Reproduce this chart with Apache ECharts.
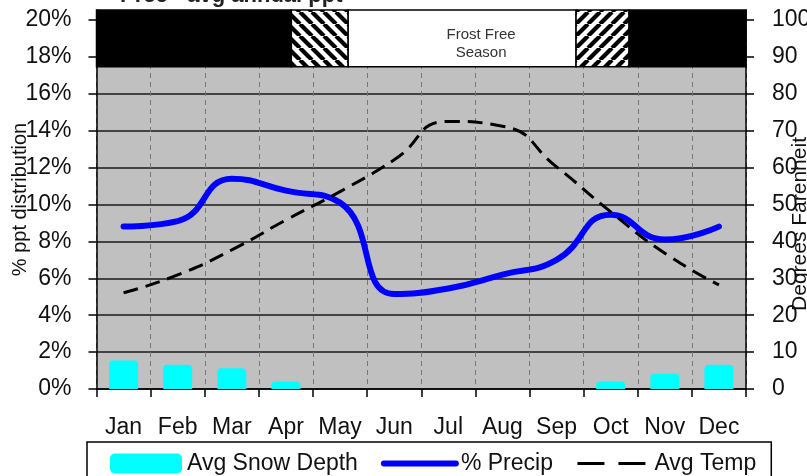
<!DOCTYPE html>
<html>
<head>
<meta charset="utf-8">
<script src="https://cdn.jsdelivr.net/npm/echarts@6/dist/echarts.min.js"></script>
<style>
  html, body { margin: 0; padding: 0; background: #fff; }
  #chart { width: 807px; height: 476px; }
</style>
</head>
<body>
<div id="chart"></div>
<script>
// data
const months = ['Jan', 'Feb', 'Mar', 'Apr', 'May', 'Jun', 'Jul', 'Aug', 'Sep', 'Oct', 'Nov', 'Dec'];
const snowDepth = [7.7, 6.6, 5.6, 2.0, null, null, null, null, null, 2.0, 4.1, 6.6];
const precipPct = [8.8, 9.1, 11.4, 10.75, 10.1, 5.15, 5.45, 6.2, 7.0, 9.45, 8.1, 8.8];
const avgTemp = [26.1, 30.9, 37.7, 45.8, 53.5, 62.1, 72.5, 71.2, 60.2, 48.0, 36.8, 28.2];
const pctTicks = [0, 2, 4, 6, 8, 10, 12, 14, 16, 18, 20];
const degTicks = [0, 10, 20, 30, 40, 50, 60, 70, 80, 90, 100];
// frost band edges, in months from the start of Jan
const frostEdges = [0, 3.6, 4.65, 8.86, 9.84, 12];

const font = 'Liberation Sans, Arial, sans-serif';

// diagonal stripes for the transition periods
function hatch(dir) {
    const c = document.createElement('canvas');
    c.width = c.height = 12;
    const g = c.getContext('2d');
    g.fillStyle = '#fff';
    g.fillRect(0, 0, 12, 12);
    g.strokeStyle = '#000';
    g.lineWidth = 4.2;
    for (let k = -1; k <= 1; k++) {
        g.beginPath();
        if (dir > 0) { g.moveTo(k * 12, 12); g.lineTo(k * 12 + 12, 0); }
        else { g.moveTo(k * 12, 0); g.lineTo(k * 12 + 12, 12); }
        g.stroke();
    }
    return { image: c, repeat: 'repeat' };
}

const bandFills = ['#000', hatch(-1), '#fff', hatch(1), '#000'];
const bandLow = 87.3, bandHigh = 102.7;
const bandData = bandFills.map((fill, i) => [
    {
        xAxis: frostEdges[i], yAxis: bandLow,
        itemStyle: { color: fill, borderColor: '#000', borderWidth: 1.5 },
        label: i === 2 ? {
            show: true, position: 'inside', formatter: 'Frost Free\nSeason',
            fontSize: 15, lineHeight: 18, color: '#333', fontFamily: font, offset: [19, 5]
        } : { show: false }
    },
    { xAxis: frostEdges[i + 1], yAxis: bandHigh }
]);

const chart = echarts.init(document.getElementById('chart'));

const axisBlack = { lineStyle: { color: '#000', width: 1.5 } };

chart.setOption({
    animation: false,
    textStyle: { fontFamily: font },
    title: {
        text: 'Prec - avg annual ppt',
        left: 115,
        top: -20,
        textStyle: { fontSize: 22, fontWeight: 'bold', color: '#222', fontFamily: font }
    },
    grid: {
        left: 96.5,
        right: 61,
        top: 10,
        bottom: 87,
        containLabel: false,
        outerBoundsMode: 'none',
        show: true,
        backgroundColor: '#C0C0C0',
        borderWidth: 0
    },
    legend: {
        data: [
            { name: 'Avg Snow Depth' },
            { name: '% Precip', itemStyle: { opacity: 0 }, lineStyle: { width: 6, cap: 'round' } },
            { name: 'Avg Temp', itemStyle: { opacity: 0 }, lineStyle: { width: 3, type: [27, 14] } }
        ],
        left: 87,
        top: 442,
        padding: [10, 15, 20, 23],
        borderColor: '#000',
        borderWidth: 1.5,
        itemWidth: 72,
        itemHeight: 20,
        itemGap: 23,
        textStyle: { fontSize: 23, color: '#111', fontFamily: font }
    },
    xAxis: [
        {
            type: 'category',
            data: months,
            boundaryGap: true,
            axisLine: axisBlack,
            axisTick: { show: true, interval: 0, length: 8, lineStyle: { color: '#000', width: 1.5 } },
            axisLabel: { fontSize: 23, color: '#111', margin: 27, interval: 0 },
            splitLine: { show: true, interval: 0, lineStyle: { color: '#777', type: [5, 4], width: 1 } }
        },
        { type: 'value', min: 0, max: 12, show: false }
    ],
    yAxis: [
        {
            type: 'value',
            position: 'left',
            min: 0,
            max: 20.54,
            interval: 2,
            name: '% ppt distribution',
            nameLocation: 'middle',
            nameRotate: 90,
            nameGap: 66,
            nameMoveOverlap: false,
            nameTextStyle: { fontSize: 20, color: '#111' },
            axisLine: { show: true, lineStyle: { color: '#000', width: 1.5 } },
            axisTick: { show: true, length: 8, customValues: pctTicks, lineStyle: { color: '#000', width: 1.5 } },
            axisLabel: { customValues: pctTicks, formatter: '{value}%', fontSize: 23, color: '#111', margin: 25 },
            splitLine: { show: true, lineStyle: { color: '#1a1a1a', width: 1.5 } }
        },
        {
            type: 'value',
            position: 'right',
            min: 0,
            max: 102.7,
            interval: 10,
            name: 'Degrees Farenheit',
            nameLocation: 'middle',
            nameRotate: 90,
            nameGap: 44,
            nameMoveOverlap: false,
            nameTextStyle: { fontSize: 21, color: '#111', padding: [0, 49, 0, 0] },
            axisLine: { show: true, lineStyle: { color: '#000', width: 1.5 } },
            axisTick: { show: true, length: 8, customValues: degTicks, lineStyle: { color: '#000', width: 1.5 } },
            axisLabel: { customValues: degTicks, fontSize: 23, color: '#111', margin: 26 },
            splitLine: { show: false }
        }
    ],
    series: [
        {
            name: 'Avg Snow Depth',
            type: 'bar',
            yAxisIndex: 1,
            data: snowDepth,
            barWidth: 29,
            itemStyle: { color: '#00FFFF', borderRadius: [4, 4, 0, 0] }
        },
        {
            name: '% Precip',
            type: 'line',
            yAxisIndex: 0,
            data: precipPct,
            smooth: 0.5,
            symbol: 'none',
            lineStyle: { color: '#0000FF', width: 6, cap: 'round' },
            itemStyle: { color: '#0000FF' }
        },
        {
            name: 'Avg Temp',
            type: 'line',
            yAxisIndex: 1,
            data: avgTemp,
            smooth: 0.55,
            symbol: 'none',
            lineStyle: { color: '#000', width: 3, type: [15, 8] },
            itemStyle: { color: '#000' }
        },
        {
            name: 'frost',
            type: 'line',
            xAxisIndex: 1,
            yAxisIndex: 1,
            data: [],
            silent: true,
            markArea: { silent: true, data: bandData }
        }
    ]
});
</script>
</body>
</html>
